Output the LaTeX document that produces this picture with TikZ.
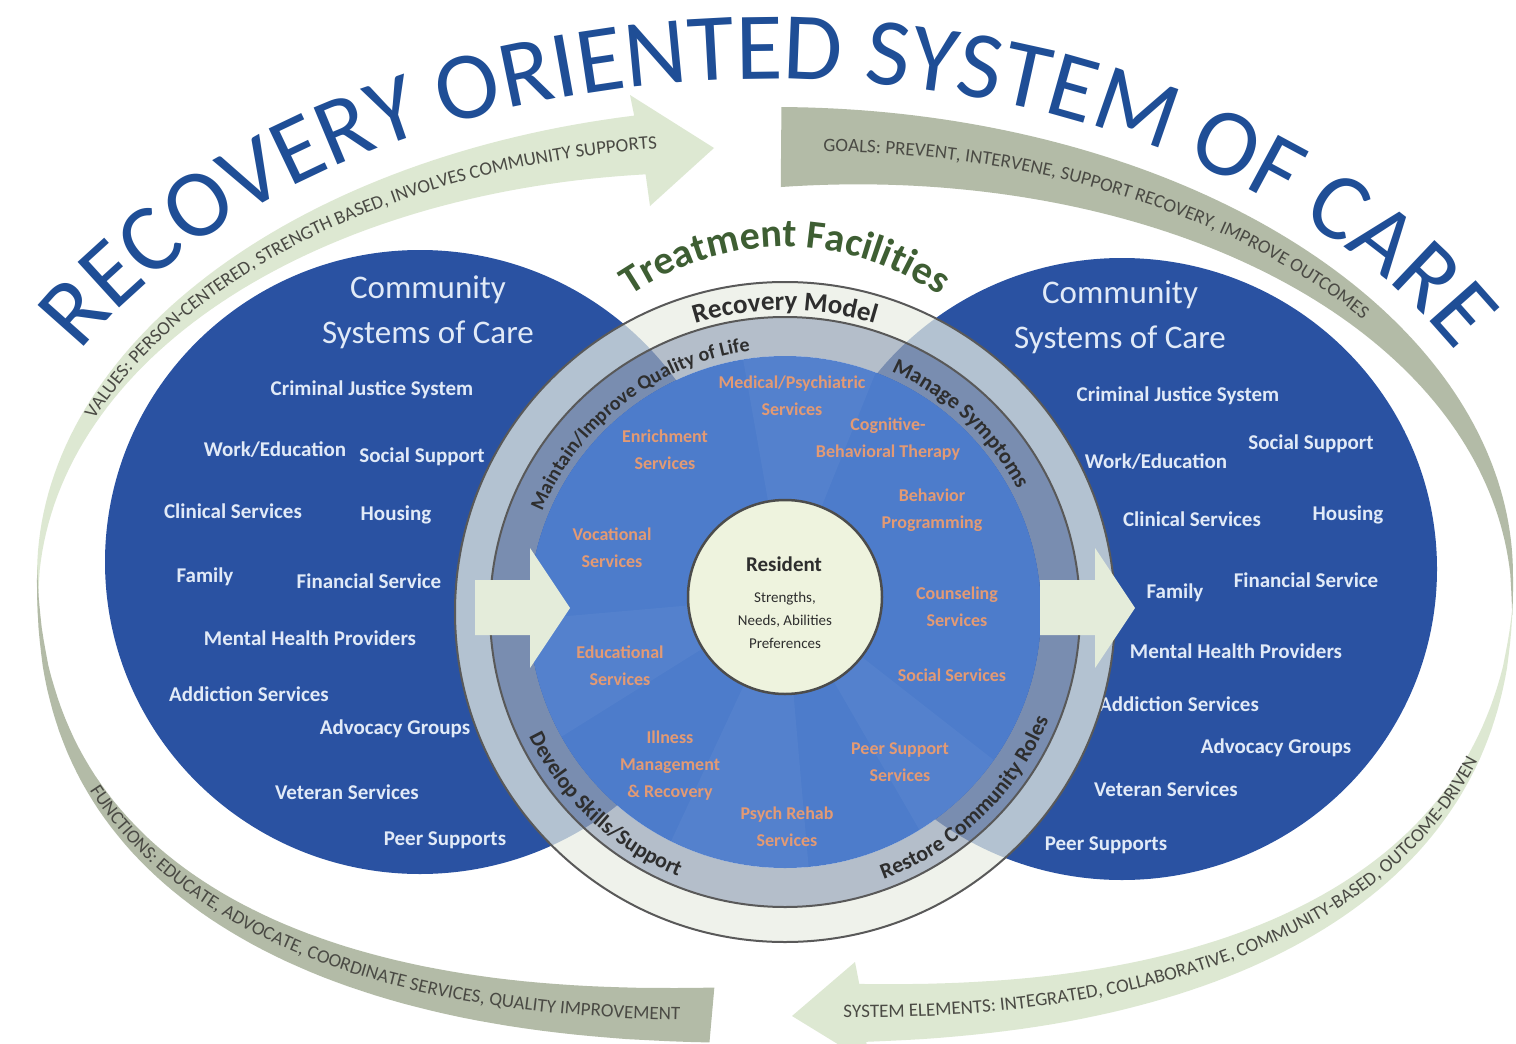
\documentclass[tikz,border=0pt]{standalone}
\usepackage{fontspec}
\setmainfont{Carlito}
\usetikzlibrary{decorations.text}

\definecolor{titleblue}{HTML}{1F4E96}
\definecolor{ellblue}{HTML}{2A52A2}
\definecolor{diskblue}{HTML}{4D7CCB}
\definecolor{paleband}{HTML}{DDE8D2}
\definecolor{sageband}{HTML}{B3BBA7}
\definecolor{ringpale}{HTML}{E9EEE4}
\definecolor{ringgray}{HTML}{98A5B6}
\definecolor{resfill}{HTML}{EEF3DE}
\definecolor{svcorange}{HTML}{E39A74}
\definecolor{listtext}{HTML}{E1EAF7}
\definecolor{facgreen}{HTML}{3E5E33}
\definecolor{ringtext}{HTML}{2E2E2E}
\definecolor{bandtext}{HTML}{4A4A44}
\definecolor{arrowpale}{HTML}{E4ECDA}

\newcommand\titlefnt{\fontsize{96}{106}\selectfont\color{titleblue}}
\newcommand\bandfnt{\fontsize{19}{21}\selectfont\color{bandtext}}
\newcommand\facfnt{\fontsize{40}{44}\selectfont\bfseries\color{facgreen}}
\newcommand\modelfnt{\fontsize{27}{30}\selectfont\bfseries\color{ringtext}}
\newcommand\ringfnt{\fontsize{20}{22}\selectfont\bfseries\color{ringtext}}
\newcommand\ringbigfnt{\fontsize{22}{24}\selectfont\bfseries\color{ringtext}}

\tikzset{
  hdr/.style={text=listtext, font=\fontsize{33}{45}\selectfont, align=center, inner sep=0pt},
  lst/.style={text=listtext, font=\fontsize{21}{24}\selectfont\bfseries, inner sep=0pt},
  svc/.style={text=svcorange, font=\fontsize{18}{27}\selectfont\bfseries, align=center, inner sep=0pt},
  ringline/.style={draw=black!65, line width=2pt},
}

\begin{document}
\begin{tikzpicture}[x=1pt, y=-1pt,
  declare function={
    qf(\t)=0.83+0.17*(sin(\t)<0);
    sgp(\u,\q)=ifthenelse(\u<0,-1,1)*pow(max(abs(\u),0.00001),\q);
    px(\t,\d)=775+(738-\d)*sgp(cos(\t),qf(\t));
    py(\t,\d)=575+(468-\d)*sgp(sin(\t),qf(\t));
    wvals(\t)=62*(\t-177)/85;
    wgoal(\t)=80*(363-\t)/92.5;
    wfunc(\t)=55*(181-\t)/88;
    wsyst(\t)=58*(\t-2)/83.4;
  }]
\useasboundingbox (0,0) rectangle (1516,1044);
\clip (0,0) rectangle (1516,1044);
\fill[white] (0,0) rectangle (1516,1044);

% outer bands
\fill[paleband] plot[domain=177:259,samples=70] ({px(\x,0)},{py(\x,0)})
  -- (630,95) -- (714,148) -- (650,206)
  -- plot[domain=259:177,samples=70] ({px(\x,wvals(\x))},{py(\x,wvals(\x))}) -- cycle;
\fill[sageband] plot[domain=270.5:363,samples=90] ({px(\x,0)},{py(\x,0)})
  -- plot[domain=363:270.5,samples=90] ({px(\x,wgoal(\x))},{py(\x,wgoal(\x))}) -- cycle;
\fill[sageband] plot[domain=93.1:181,samples=70] ({px(\x,0)},{py(\x,0)})
  -- plot[domain=181:93.1,samples=70] ({px(\x,wfunc(\x))},{py(\x,wfunc(\x))}) -- cycle;
\fill[paleband] plot[domain=2:85.4,samples=70] ({px(\x,0)},{py(\x,0)})
  -- (867,1062) -- (792,1016) -- (855,962)
  -- plot[domain=85.4:2,samples=70] ({px(\x,wsyst(\x))},{py(\x,wsyst(\x))}) -- cycle;

% title and band texts
\path[decorate, decoration={text along path, text align=center,
  text={|\titlefnt|RECOVERY ORIENTED SYSTEM OF CARE}}]
  plot[domain=175:5,samples=150] ({768+785*cos(\x)},{605-526*sin(\x)});
\path[decorate, decoration={text along path, text align=left,
  text={|\bandfnt|VALUES: PERSON-CENTERED, STRENGTH BASED, INVOLVES COMMUNITY SUPPORTS}}]
  plot[domain=200:272,samples=80] ({px(\x,wvals(\x)/2+5)},{py(\x,wvals(\x)/2+5)});
\path[decorate, decoration={text along path, text align=left,
  text={|\bandfnt|GOALS: PREVENT, INTERVENE, SUPPORT RECOVERY, IMPROVE OUTCOMES}}]
  plot[domain=274:345,samples=90] ({px(\x,wgoal(\x)/2+5)},{py(\x,wgoal(\x)/2+5)});
\path[decorate, decoration={text along path, text align=right,
  text={|\bandfnt|FUNCTIONS: EDUCATE, ADVOCATE, COORDINATE SERVICES, QUALITY IMPROVEMENT}}]
  plot[domain=170:95,samples=80] ({px(\x,wfunc(\x)/2-5)},{py(\x,wfunc(\x)/2-5)});
\path[decorate, decoration={text along path, text align=left,
  text={|\bandfnt|SYSTEM ELEMENTS: INTEGRATED, COLLABORATIVE, COMMUNITY-BASED, OUTCOME-DRIVEN}}]
  plot[domain=86.6:10,samples=80] ({px(\x,wsyst(\x)/2-5)},{py(\x,wsyst(\x)/2-5)});

% community systems of care
\fill[ellblue] (420,562) ellipse (315pt and 312pt);
\fill[ellblue] (1122,569) ellipse (315pt and 311pt);

\node[hdr] (lhead) at (428,312) {Community\\Systems of Care};
\node[lst] (lcrim) at (372,390) {Criminal Justice System};
\node[lst] (lwork) at (275,450) {Work/Education};
\node[lst] (lsoc) at (422,457) {Social Support};
\node[lst] (lclin) at (233,511) {Clinical Services};
\node[lst] (lhous) at (396,515) {Housing};
\node[lst] (lfam) at (205,577) {Family};
\node[lst] (lfin) at (369,581) {Financial Service};
\node[lst] (lment) at (310,638) {Mental Health Providers};
\node[lst] (ladd) at (249,694) {Addiction Services};
\node[lst] (ladv) at (395,729) {Advocacy Groups};
\node[lst] (lvet) at (347,792) {Veteran Services};
\node[lst] (lpeer) at (445,840) {Peer Supports};

\node[hdr] (rhead) at (1120,317) {Community\\Systems of Care};
\node[lst] (rcrim) at (1178,396) {Criminal Justice System};
\node[lst] (rsoc) at (1311,444) {Social Support};
\node[lst] (rwork) at (1156,462) {Work/Education};
\node[lst] (rclin) at (1192,519) {Clinical Services};
\node[lst] (rhous) at (1348,515) {Housing};
\node[lst] (rfam) at (1175,593) {Family};
\node[lst] (rfin) at (1306,580) {Financial Service};
\node[lst] (rment) at (1236,651) {Mental Health Providers};
\node[lst] (radd) at (1179,704) {Addiction Services};
\node[lst] (radv) at (1276,748) {Advocacy Groups};
\node[lst] (rvet) at (1166,789) {Veteran Services};
\node[lst] (rpeer) at (1106,845) {Peer Supports};

% treatment facilities ring
\fill[ringpale, opacity=.72, even odd rule] (785,612) circle (330pt) (785,612) circle (295pt);
\fill[ringgray, opacity=.72, even odd rule] (785,612) circle (295pt) (785,612) circle (256pt);
\draw[ringline] (785,612) circle (330pt);
\draw[ringline] (785,612) circle (295pt);
\fill[diskblue] (785,612) circle (256pt);
\begin{scope}
  \clip (785,612) circle (256pt);
  \foreach \a/\b in {68/100, 185/212, 245/275, 300/322}
    \fill[white, opacity=.045] (785,597) -- ({785+420*cos(\a)},{597-420*sin(\a)})
      -- ({785+420*cos(\b)},{597-420*sin(\b)}) -- cycle;
\end{scope}

% arrows through the ring
\fill[arrowpale] (475,580) -- (530,580) -- (530,548) -- (570,608) -- (530,668) -- (530,635) -- (475,635) -- cycle;
\fill[arrowpale] (1040,580) -- (1095,580) -- (1095,548) -- (1135,608) -- (1095,668) -- (1095,635) -- (1040,635) -- cycle;

% resident
\filldraw[fill=resfill, draw=black!70, line width=2.5pt] (785,597) circle (97pt);
\node[font=\fontsize{21}{24}\selectfont\bfseries, text=ringtext] (res) at (784,564) {Resident};
\node[font=\fontsize{15}{23}\selectfont, align=center, text=ringtext] (resdet) at (785,620) {Strengths,\\Needs, Abilities\\Preferences};

% services
\node[svc] (med) at (792,396) {Medical/Psychiatric\\Services};
\node[svc] (enr) at (665,450) {Enrichment\\Services};
\node[svc] (cbt) at (888,439) {Cognitive-\\Behavioral Therapy};
\node[svc] (beh) at (932,510) {Behavior\\Programming};
\node[svc] (voc) at (612,548) {Vocational\\Services};
\node[svc] (cou) at (957,607) {Counseling\\Services};
\node[svc] (edu) at (620,666) {Educational\\Services};
\node[svc] (socs) at (952,675) {Social Services};
\node[svc] (ill) at (670,766) {Illness\\Management\\\& Recovery};
\node[svc] (peers) at (900,762) {Peer Support\\Services};
\node[svc] (psy) at (787,827) {Psych Rehab\\Services};

% ring labels
\path[decorate, decoration={text along path, text align=center, text={|\facfnt|Treatment Facilities}}]
  plot[domain=140:40,samples=60] ({785+268*cos(\x)},{515-268*sin(\x)});
\path[decorate, decoration={text along path, text align=center, text={|\modelfnt|Recovery Model}}]
  plot[domain=130:50,samples=60] ({785+302*cos(\x)},{612-302*sin(\x)});
\path[decorate, decoration={text along path, text align=center, text={|\ringfnt|Maintain/Improve Quality of Life}}]
  plot[domain=165:90,samples=60] ({785+263*cos(\x)},{612-263*sin(\x)});
\path[decorate, decoration={text along path, text align=center, text={|\ringbigfnt|Manage Symptoms}}]
  plot[domain=77:17,samples=60] ({785+263*cos(\x)},{612-263*sin(\x)});
\path[decorate, decoration={text along path, text align=center, text={|\ringbigfnt|Develop Skills/Support}}]
  plot[domain=195:259,samples=60] ({785+285*cos(\x)},{612-285*sin(\x)});
\path[decorate, decoration={text along path, text align=center, text={|\ringbigfnt|Restore Community Roles}}]
  plot[domain=282:346,samples=60] ({785+285*cos(\x)},{612-285*sin(\x)});
\end{tikzpicture}
\end{document}
